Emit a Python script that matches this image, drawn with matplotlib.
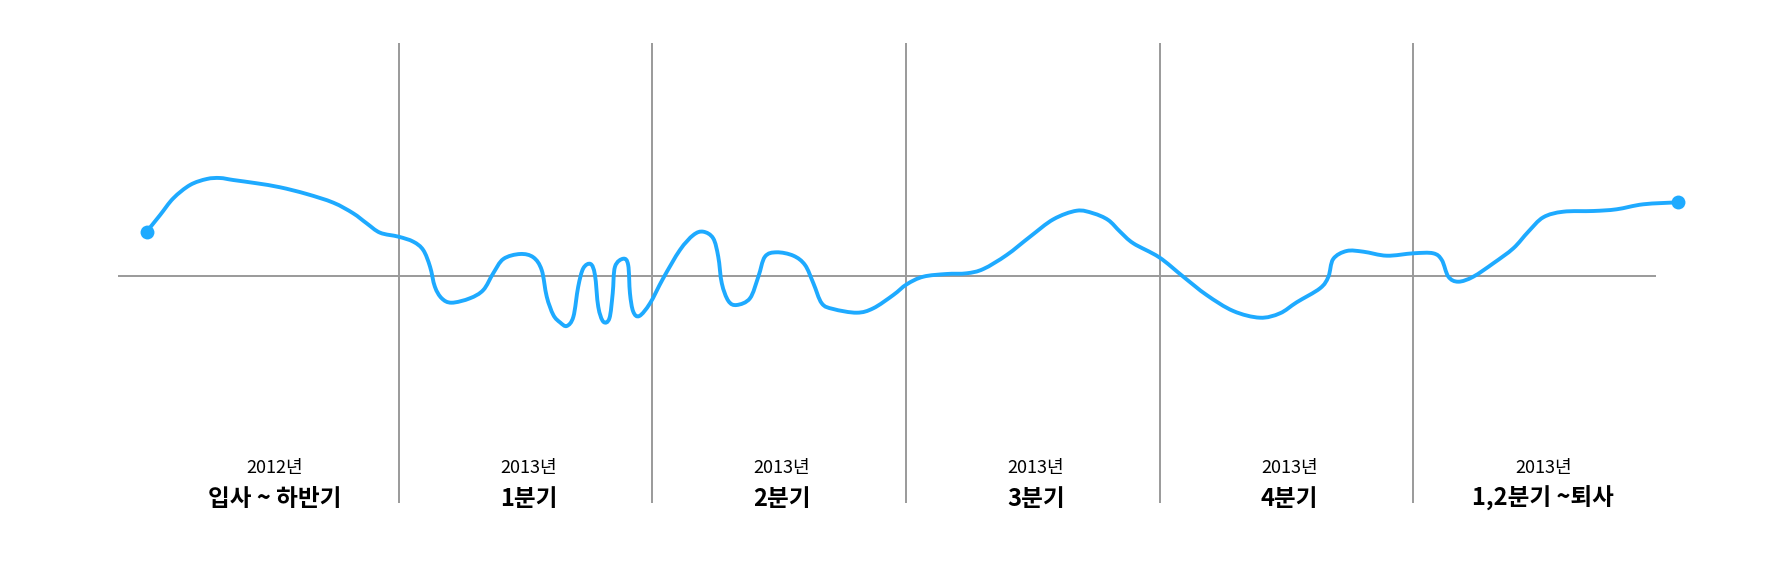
import numpy as np
import matplotlib
matplotlib.use("Agg")
import matplotlib.pyplot as plt
from matplotlib.path import Path
from matplotlib.patches import PathPatch
from matplotlib import transforms

plt.rcParams['font.family'] = ['Noto Sans CJK KR', 'DejaVu Sans']

# ---- data ----
years = ['2012년', '2013년', '2013년', '2013년', '2013년', '2013년']
periods = ['입사 ~ 하반기', '1분기', '2분기', '3분기', '4분기', '1,2분기 ~퇴사']
boundaries = [1, 2, 3, 4, 5]          # period separators (timeline units)

t = [0.007, 0.060, 0.112, 0.178, 0.244, 0.296, 0.348, 0.441, 0.533, 0.638,
     0.743, 0.821, 0.874, 0.927, 1.000, 1.058, 1.097, 1.124, 1.143, 1.170,
     1.209, 1.281, 1.334, 1.373, 1.413, 1.479, 1.531, 1.564, 1.584, 1.610,
     1.637, 1.663, 1.689, 1.708, 1.728, 1.757, 1.774, 1.787, 1.807, 1.831,
     1.844, 1.853, 1.886, 1.905, 1.912, 1.925, 1.949, 1.991, 2.043, 2.109,
     2.162, 2.201, 2.240, 2.260, 2.274, 2.300, 2.333, 2.385, 2.418, 2.444,
     2.490, 2.556, 2.602, 2.635, 2.668, 2.713, 2.806, 2.871, 2.950, 3.003,
     3.068, 3.160, 3.239, 3.305, 3.397, 3.489, 3.581, 3.673, 3.738, 3.797,
     3.844, 3.896, 3.998, 4.093, 4.185, 4.290, 4.395, 4.474, 4.540, 4.632,
     4.665, 4.684, 4.737, 4.803, 4.895, 5.000, 5.078, 5.112, 5.138, 5.177,
     5.236, 5.315, 5.394, 5.453, 5.512, 5.591, 5.709, 5.801, 5.906, 6.044]
mood = [4.43, 6.10, 7.77, 9.10, 9.70, 9.80, 9.60, 9.27, 8.87, 8.20,
        7.33, 6.27, 5.27, 4.33, 3.93, 3.43, 2.60, 0.93, -1.07, -2.23,
        -2.67, -2.23, -1.40, 0.27, 1.70, 2.20, 1.87, 0.60, -2.07, -3.90,
        -4.65, -5.00, -4.07, -1.07, 0.77, 1.20, 0.10, -3.07, -4.57, -4.23,
        -1.73, 0.93, 1.73, 1.10, -1.73, -3.57, -4.00, -2.73, -0.23, 2.60,
        4.10, 4.43, 3.77, 1.93, -0.73, -2.50, -2.90, -2.23, -0.07, 1.93,
        2.37, 2.03, 1.10, -0.73, -2.73, -3.30, -3.67, -3.23, -1.90, -0.83,
        -0.07, 0.20, 0.27, 0.70, 2.10, 3.93, 5.67, 6.53, 6.27, 5.60,
        4.43, 3.27, 1.87, -0.07, -1.90, -3.50, -4.17, -3.73, -2.63, -1.23,
        -0.07, 1.70, 2.50, 2.43, 2.03, 2.27, 2.27, 1.60, -0.07, -0.57,
        -0.07, 1.27, 2.77, 4.43, 5.87, 6.43, 6.50, 6.67, 7.17, 7.37]

# ---- figure ----
fig = plt.figure(figsize=(17.71, 5.72), dpi=100)
ax = fig.add_axes([0, 0, 1, 1])
ax.set_xlim(-0.5711, 6.4096)
ax.set_ylim(-29.6, 27.6)
ax.axis('off')

grey = '#9a9a9a'
blue = '#1eaaff'

# baseline and separators
ax.plot([-0.105, 5.956], [0, 0], color=grey, lw=1.4, solid_capstyle='butt', zorder=1)
for b in boundaries:
    ax.plot([b, b], [23.27, -22.73], color=grey, lw=1.4, solid_capstyle='butt', zorder=1)

# smooth curve through the points (Catmull-Rom as cubic Bezier path)
P = np.column_stack([t, mood])
verts = [P[0]]
codes = [Path.MOVETO]
n = len(P)
for i in range(n - 1):
    p0 = P[i - 1] if i > 0 else P[i]
    p1 = P[i]
    p2 = P[i + 1]
    p3 = P[i + 2] if i + 2 < n else P[i + 1]
    c1 = p1 + (p2 - p0) / 6.0
    c2 = p2 - (p3 - p1) / 6.0
    verts += [c1, c2, p2]
    codes += [Path.CURVE4] * 3
patch = PathPatch(Path(verts, codes), facecolor='none', edgecolor=blue,
                  lw=2.8, capstyle='round', joinstyle='round', zorder=3)
ax.add_patch(patch)

# end dots
ax.plot([t[0], t[-1]], [mood[0], mood[-1]], 'o', color=blue, markersize=10,
        markeredgewidth=0, zorder=4)

# labels
off = transforms.offset_copy(ax.transData, fig=fig, x=3, y=0, units='dots')
for i, (yr, pr) in enumerate(zip(years, periods)):
    cx = i + 0.5
    ax.text(cx, -19.7, yr, ha='center', va='baseline', fontsize=13,
            color='#000000', transform=off)
    ax.text(cx, -23.0, pr, ha='center', va='baseline', fontsize=17,
            fontweight='bold', color='#000000', transform=off)

fig.savefig('out.png', dpi=100, facecolor='white')
